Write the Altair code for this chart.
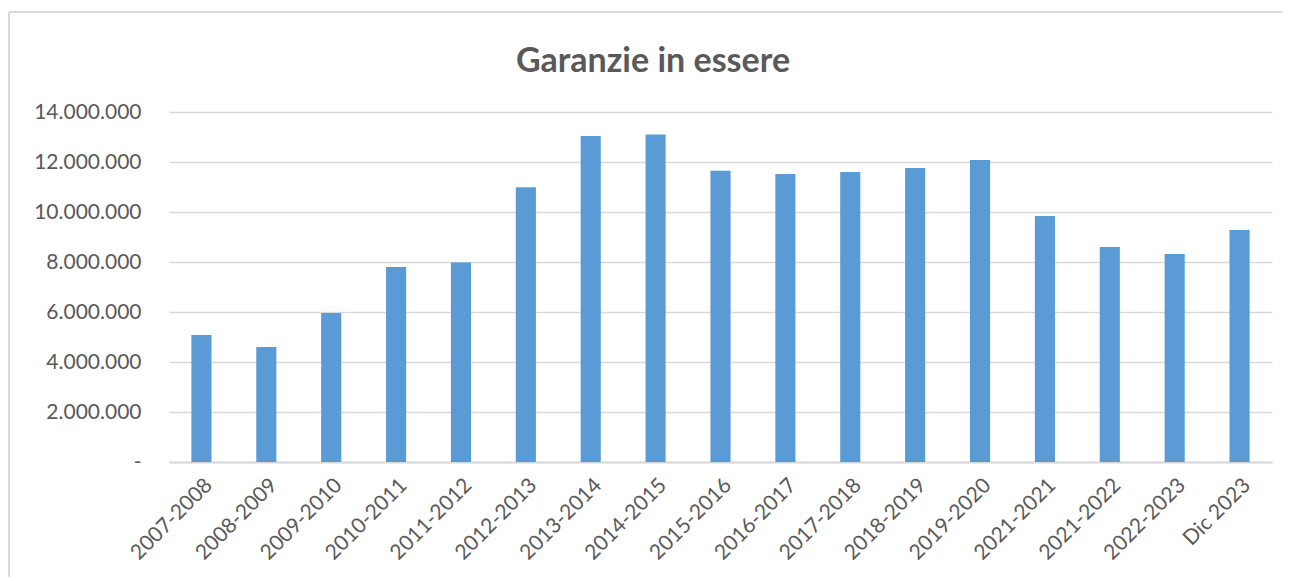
import altair as alt
import pandas as pd

title_text = "Garanzie in essere"
categories = ["2007-2008", "2008-2009", "2009-2010", "2010-2011", "2011-2012",
              "2012-2013", "2013-2014", "2014-2015", "2015-2016", "2016-2017",
              "2017-2018", "2018-2019", "2019-2020", "2021-2021", "2021-2022",
              "2022-2023", "Dic 2023"]
values = [5080000, 4600000, 5960000, 7800000, 7980000,
          10990000, 13040000, 13100000, 11650000, 11520000,
          11600000, 11760000, 12080000, 9840000, 8600000,
          8320000, 9280000]
y_ticks = [0, 2000000, 4000000, 6000000, 8000000, 10000000, 12000000, 14000000]

df = pd.DataFrame({"cat": categories, "val": values})

FONT = "Lato"
GRAY = "#595959"
LINE = "#d9d9d9"

bars = alt.Chart(df).mark_bar(color="#5B9BD5").encode(
    x=alt.X("cat:N", sort=categories, title=None,
            scale=alt.Scale(paddingInner=0.69, paddingOuter=0.345),
            axis=alt.Axis(labelAngle=-45, labelAlign="right", labelBaseline="top",
                          labelFontSize=21, labelColor=GRAY, labelFont=FONT,
                          labelPadding=12, ticks=False, domainColor=LINE,
                          domainWidth=2, grid=False, labelOverlap=False)),
    y=alt.Y("val:Q", title=None,
            scale=alt.Scale(domain=[0, 14000000], nice=False),
            axis=alt.Axis(values=y_ticks, ticks=False, domain=False,
                          gridColor=LINE, gridWidth=1.5,
                          labelFontSize=21, labelColor=GRAY, labelFont=FONT,
                          labelPadding=28,
                          labelExpr="datum.value == 0 ? '-' : replace(format(datum.value, ','), /,/g, '.')")),
)

one = pd.DataFrame({"t": [title_text]})
frame_top = alt.Chart(one).mark_rule(color=LINE, strokeWidth=2).encode(
    x=alt.value(-160), x2=alt.value(1200), y=alt.value(-100))
frame_left = alt.Chart(one).mark_rule(color=LINE, strokeWidth=2).encode(
    x=alt.value(-160), y=alt.value(-100), y2=alt.value(600))
title = alt.Chart(one).mark_text(font=FONT, fontSize=34, fontWeight="bold",
                                 color=GRAY, align="center",
                                 baseline="alphabetic").encode(
    x=alt.value(484), y=alt.value(-40), text="t:N")

chart = alt.layer(frame_top, frame_left, title, bars).properties(
    width=1103, height=350,
    padding={"left": 161, "top": 104, "right": 10, "bottom": 115},
    autosize=alt.AutoSizeParams(type="none"),
).configure_view(stroke=None)

chart.save("out.html", embed_options={"renderer": "svg", "actions": False})
